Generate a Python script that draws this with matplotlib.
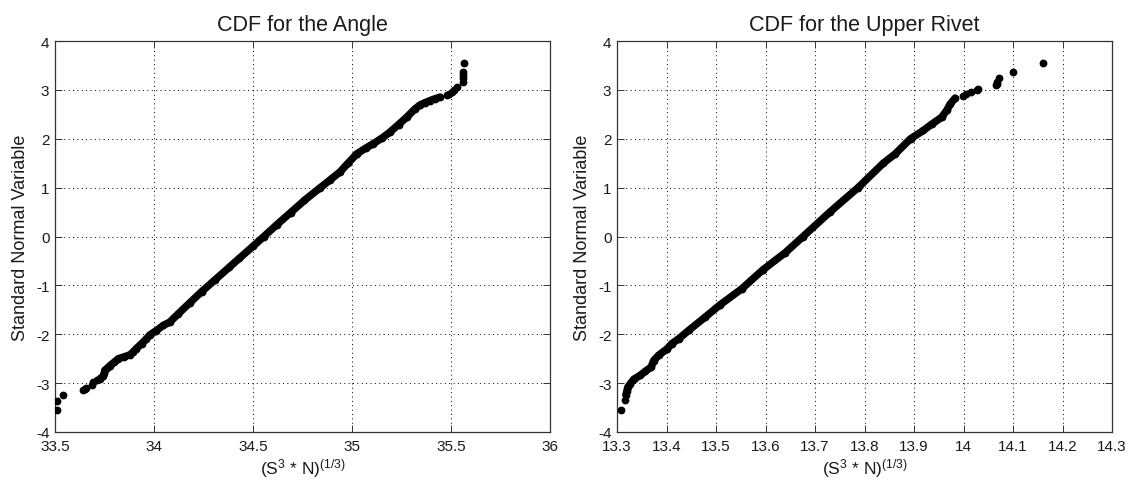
import matplotlib
matplotlib.use("Agg")
import matplotlib.pyplot as plt

plt.rcParams['font.family'] = ['Liberation Sans', 'DejaVu Sans']
plt.rcParams['mathtext.fontset'] = 'custom'
plt.rcParams['mathtext.rm'] = 'Liberation Sans'
plt.rcParams['mathtext.it'] = 'Liberation Sans'
plt.rcParams['mathtext.bf'] = 'Liberation Sans'

# ---------------- data ----------------
# Left panel: CDF for the Angle
angle_body_x = [33.727, 33.744, 33.749, 33.751, 33.765, 33.778, 33.800, 33.820, 33.850,
                33.879, 33.895, 33.909, 33.938, 33.960, 33.980, 34.010, 34.047, 34.080,
                34.123, 34.180, 34.240, 34.310, 34.380, 34.430, 34.500, 34.555, 34.620,
                34.690, 34.760, 34.840, 34.890, 34.939, 34.980, 35.024, 35.070, 35.108,
                35.150, 35.190, 35.235, 35.276, 35.318, 35.343, 35.370, 35.394, 35.420,
                35.444]
angle_body_y = [-2.91, -2.86, -2.80, -2.74, -2.69, -2.64, -2.57, -2.50, -2.46,
                -2.42, -2.36, -2.30, -2.19, -2.10, -2.01, -1.93, -1.82, -1.75,
                -1.58, -1.36, -1.13, -0.88, -0.63, -0.45, -0.20, 0.00, 0.24,
                0.49, 0.74, 1.00, 1.16, 1.32, 1.50, 1.69, 1.81, 1.90,
                2.01, 2.13, 2.29, 2.44, 2.61, 2.69, 2.74, 2.78, 2.82,
                2.85]
angle_dots_x = [33.512, 33.512, 33.539, 33.643, 33.650, 33.657, 33.685, 33.693, 33.712,
                35.480, 35.492, 35.504, 35.515, 35.529, 35.560, 35.562, 35.562, 35.562,
                35.565]
angle_dots_y = [-3.54, -3.36, -3.24, -3.15, -3.12, -3.10, -3.03, -2.98, -2.94,
                2.90, 2.92, 2.95, 3.00, 3.06, 3.16, 3.24, 3.30, 3.36,
                3.55]

# Right panel: CDF for the Upper Rivet
rivet_body_x = [13.318, 13.320, 13.322, 13.327, 13.334, 13.347, 13.357, 13.369, 13.374,
                13.384, 13.401, 13.411, 13.425, 13.445, 13.478, 13.508, 13.552, 13.595,
                13.640, 13.676, 13.730, 13.787, 13.838, 13.862, 13.893, 13.919, 13.936,
                13.956, 13.966, 13.973, 13.983]
rivet_body_y = [-3.24, -3.16, -3.08, -3.01, -2.92, -2.84, -2.76, -2.67, -2.54,
                -2.43, -2.30, -2.19, -2.09, -1.92, -1.65, -1.40, -1.07, -0.68,
                -0.33, 0.00, 0.50, 1.00, 1.50, 1.69, 2.00, 2.17, 2.30,
                2.44, 2.58, 2.71, 2.83]
rivet_dots_x = [13.308, 13.316, 13.998, 14.005, 14.015, 14.028, 14.029,
                14.065, 14.067, 14.068, 14.072, 14.099, 14.161]
rivet_dots_y = [-3.54, -3.35, 2.88, 2.91, 2.95, 2.99, 3.02,
                3.09, 3.13, 3.17, 3.24, 3.36, 3.55]

angle_xticks = [33.5, 34, 34.5, 35, 35.5, 36]
angle_xticklabels = ['33.5', '34', '34.5', '35', '35.5', '36']
rivet_xticks = [13.3, 13.4, 13.5, 13.6, 13.7, 13.8, 13.9, 14.0, 14.1, 14.2, 14.3]
rivet_xticklabels = ['13.3', '13.4', '13.5', '13.6', '13.7', '13.8', '13.9', '14', '14.1', '14.2', '14.3']
yticks = [-4, -3, -2, -1, 0, 1, 2, 3, 4]
titles = ['CDF for the Angle', 'CDF for the Upper Rivet']
xlabel = r'(S$^{3}$ * N)$^{(1/3)}$'
ylabel = 'Standard Normal Variable'

# ---------------- figure ----------------
W, H = 1128, 481
fig = plt.figure(figsize=(W / 100, H / 100), dpi=100)
fig.patch.set_facecolor('white')

ax1 = fig.add_axes([55 / W, (H - 433) / H, 495 / W, 391 / H])
ax2 = fig.add_axes([617 / W, (H - 433) / H, 495 / W, 391 / H])

txt = '#1a1a1a'
panels = [
    (ax1, angle_body_x, angle_body_y, angle_dots_x, angle_dots_y, (33.5, 36), angle_xticks, angle_xticklabels, titles[0]),
    (ax2, rivet_body_x, rivet_body_y, rivet_dots_x, rivet_dots_y, (13.3, 14.3), rivet_xticks, rivet_xticklabels, titles[1]),
]
for ax, bx, by, dx, dy, xlim, xt, xtl, title in panels:
    ax.plot(bx, by, '-', color='black', lw=5.4, solid_capstyle='round', solid_joinstyle='round', zorder=3)
    ax.plot(bx, by, 'o', color='black', ms=4.6, zorder=3)
    ax.plot(dx, dy, 'o', color='black', ms=4.6, linestyle='none', zorder=3)
    ax.set_xlim(*xlim)
    ax.set_ylim(-4, 4)
    ax.set_xticks(xt)
    ax.set_xticklabels(xtl)
    ax.set_yticks(yticks)
    ax.set_yticklabels([str(v) for v in yticks])
    ax.grid(True, color='black', linestyle=(0, (1, 3.5)), linewidth=0.7)
    ax.set_axisbelow(True)
    ax.tick_params(direction='in', top=True, right=True, length=5, width=0.7,
                   labelsize=11, colors='#333333', labelcolor=txt)
    ax.tick_params(axis='x', pad=5)
    ax.tick_params(axis='y', pad=4)
    for s in ax.spines.values():
        s.set_color('#333333')
        s.set_linewidth(0.9)
    ax.set_title(title, fontsize=15.5, color=txt, pad=8)
    ax.set_xlabel(xlabel, fontsize=12.5, color=txt, labelpad=2)
    ax.set_ylabel(ylabel, fontsize=13, color=txt, labelpad=5)

fig.savefig('out.png', dpi=100)
